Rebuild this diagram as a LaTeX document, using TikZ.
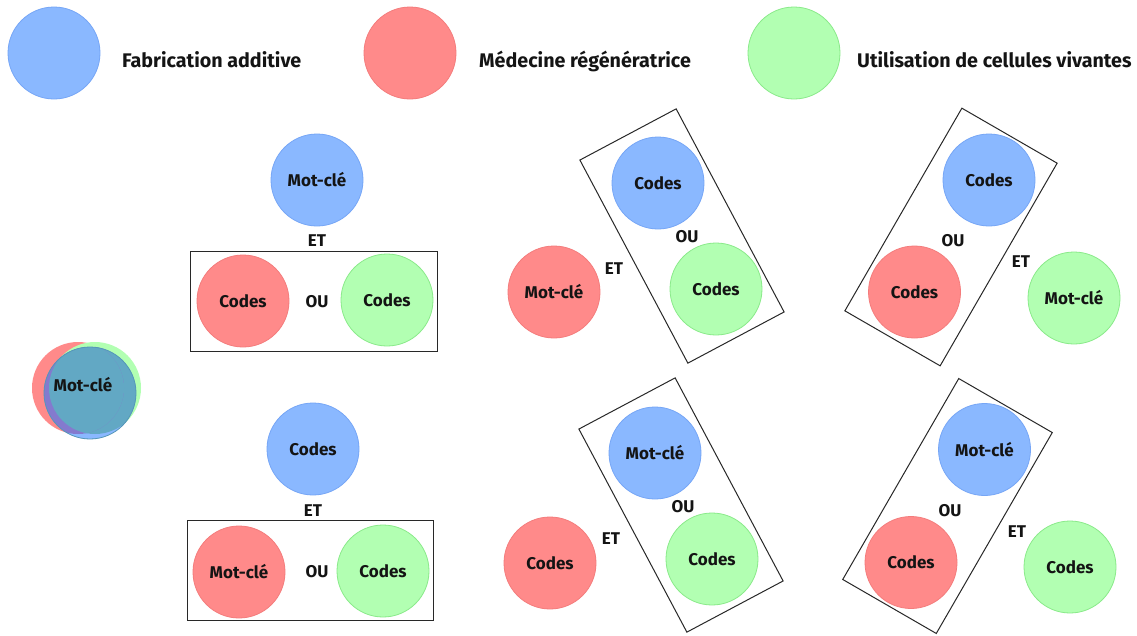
\documentclass[tikz,border=0pt]{standalone}
\usepackage{fontspec}
\setmainfont{Fira Sans}
\definecolor{cBlue}{RGB}{138,184,255}
\definecolor{cBlueD}{RGB}{118,166,246}
\definecolor{cRed}{RGB}{255,138,138}
\definecolor{cRedD}{RGB}{244,124,124}
\definecolor{cGreen}{RGB}{178,255,178}
\definecolor{cGreenD}{RGB}{138,234,138}
\definecolor{cTeal}{RGB}{98,168,196}
\definecolor{cTealD}{RGB}{84,150,184}
\definecolor{cPurple}{RGB}{132,122,206}
\definecolor{cFrame}{RGB}{40,40,40}
\tikzset{
  txt/.style={font=\bfseries\fontsize{17}{20}\selectfont, text=black!92, inner sep=0pt},
  leg/.style={font=\bfseries\fontsize{19.7}{23}\selectfont, text=black!92, inner sep=0pt},
  bub/.style={circle, minimum size=92pt, inner sep=0pt, line width=0.8pt, txt},
  bbl/.style={bub, fill=cBlue, draw=cBlueD},
  rbl/.style={bub, fill=cRed, draw=cRedD},
  gbl/.style={bub, fill=cGreen, draw=cGreenD},
  frame/.style={draw=cFrame, line width=1pt, rectangle, inner sep=0pt},
}
\begin{document}
\begin{tikzpicture}[x=1pt,y=-1pt]
\fill[white] (0,0) rectangle (1137,635);
\useasboundingbox (0,0) rectangle (1137,635);

% legend
\node[bbl] (legA) at (54,53) {};
\node[leg, anchor=base west] (legAt) at (122,67.5) {Fabrication additive};
\node[rbl] (legB) at (410,53) {};
\node[leg, anchor=base west] (legBt) at (479,67.5) {Médecine régénératrice};
\node[gbl] (legC) at (794,53) {};
\node[leg, anchor=base west] (legCt) at (857,67.5) {Utilisation de cellules vivantes};

% left overlapped keyword
\fill[cRed] (78,388) circle (46pt);
\fill[cGreen] (95,388) circle (46pt);
\begin{scope}
  \clip (90,393) circle (46pt);
  \fill[cBlue] (90,393) circle (46pt);
  \fill[cTeal] (95,388) circle (46pt);
  \fill[cPurple] (78,388) circle (46pt);
  \clip (78,388) circle (46pt);
  \fill[cTeal] (95,388) circle (46pt);
\end{scope}
\draw[cTealD, line width=0.8pt] (90,393) circle (46pt);
\node[txt] (mk0) at (83,385) {Mot-clé};

% group 1 (top middle)
\node[frame, minimum width=247pt, minimum height=100pt] (f1) at (313.5,301) {};
\node[bbl] (k1) at (317,180) {Mot-clé};
\node[txt] (et1) at (317,241) {ET};
\node[rbl] (c1a) at (243,301) {Codes};
\node[txt] (ou1) at (317,302) {OU};
\node[gbl] (c1b) at (387,300) {Codes};

% group 4 (bottom middle)
\node[frame, minimum width=246pt, minimum height=100pt] (f4) at (310.3,570.7) {};
\node[bbl] (k4) at (313,449) {Codes};
\node[txt] (et4) at (313,511) {ET};
\node[rbl] (c4a) at (239,572) {Mot-clé};
\node[txt] (ou4) at (317,572) {OU};
\node[gbl] (c4b) at (383,571) {Codes};

% group 2 (top centre-right)
\node[frame, minimum width=109pt, minimum height=230pt, rotate=28] (f2) at (682,236) {};
\node[bbl] (k2) at (658,183) {Codes};
\node[txt] (ou2) at (687,237) {OU};
\node[gbl] (c2b) at (716,289) {Codes};
\node[rbl] (c2a) at (554,292) {Mot-clé};
\node[txt] (et2) at (614,269) {ET};

% group 5 (bottom centre-right)
\node[frame, minimum width=109pt, minimum height=230pt, rotate=28] (f5) at (681,505) {};
\node[bbl] (k5) at (655,453) {Mot-clé};
\node[txt] (ou5) at (683,507) {OU};
\node[gbl] (c5b) at (712,559) {Codes};
\node[rbl] (c5a) at (550,563) {Codes};
\node[txt] (et5) at (611,539) {ET};

% group 3 (top right)
\node[frame, minimum width=110pt, minimum height=234pt, rotate=-30] (f3) at (951,237) {};
\node[bbl] (k3) at (989,180) {Codes};
\node[txt] (ou3) at (953,241) {OU};
\node[rbl] (c3a) at (914.5,292) {Codes};
\node[txt] (et3) at (1021,262) {ET};
\node[gbl] (c3b) at (1074,298) {Mot-clé};

% group 6 (bottom right)
\node[frame, minimum width=108pt, minimum height=232pt, rotate=-30] (f6) at (947.5,506) {};
\node[bbl] (k6) at (984.5,449.5) {Mot-clé};
\node[txt] (ou6) at (950,511) {OU};
\node[rbl] (c6a) at (911,562.5) {Codes};
\node[txt] (et6) at (1017,532) {ET};
\node[gbl] (c6b) at (1070,567) {Codes};
\end{tikzpicture}
\end{document}
